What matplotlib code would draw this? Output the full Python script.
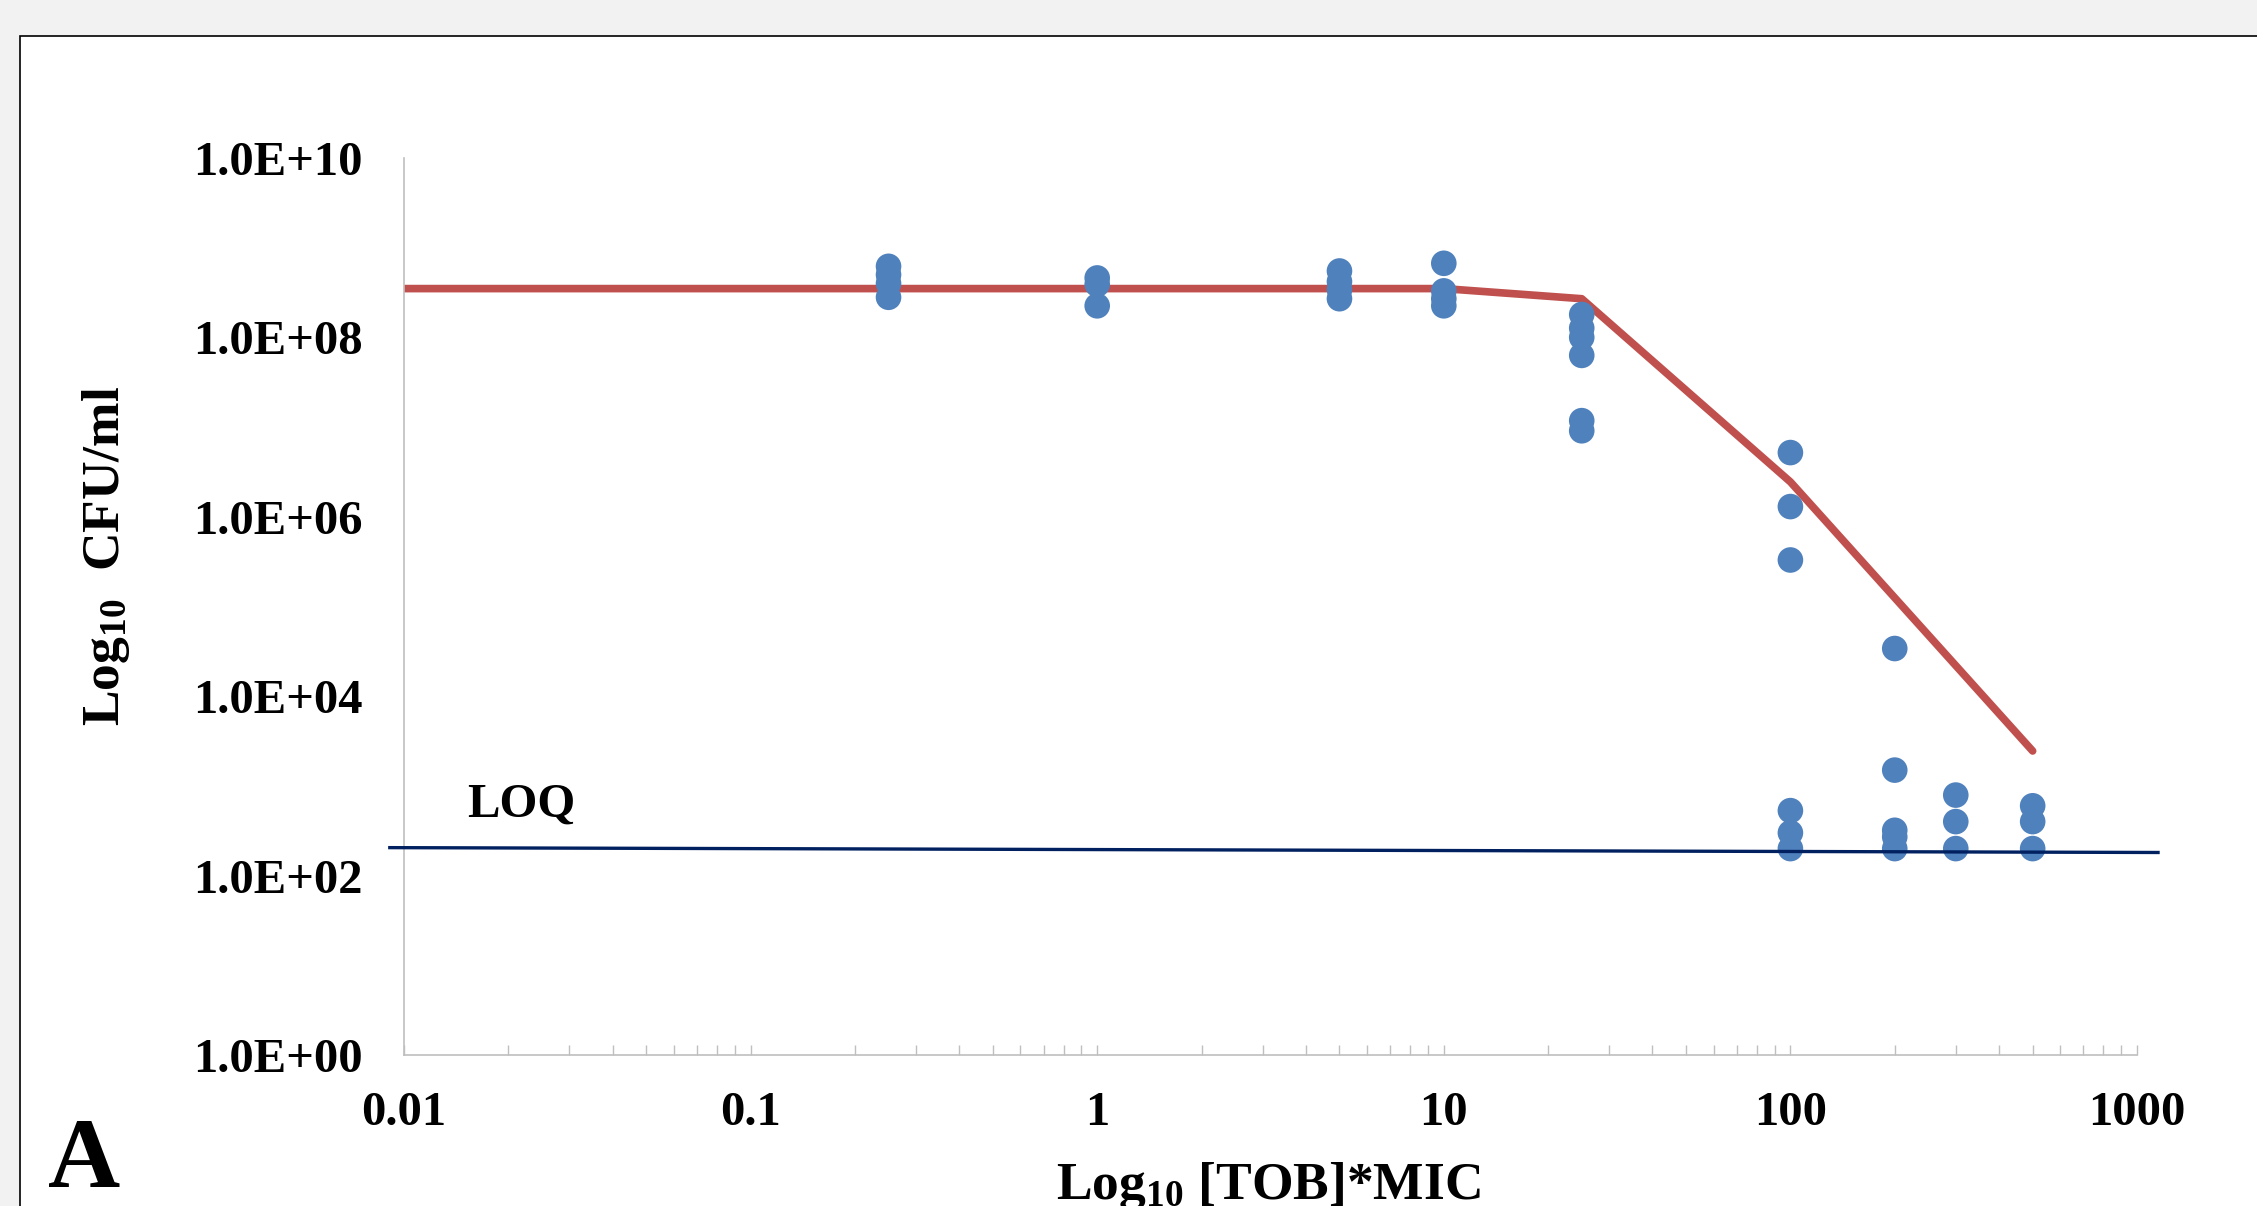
import numpy as np
import matplotlib
matplotlib.use("Agg")
import matplotlib.pyplot as plt
import matplotlib.patches as patches
from matplotlib.ticker import LogLocator, FixedLocator, FuncFormatter, NullFormatter

# data
conc = [0.25, 0.25, 0.25, 0.25,
        1, 1, 1,
        5, 5, 5, 5,
        10, 10, 10, 10,
        25, 25, 25, 25, 25, 25,
        100, 100, 100, 100, 100, 100,
        200, 200, 200, 200, 200,
        300, 300, 300,
        500, 500, 500]
cfu = [6.2e8, 5.0e8, 4.0e8, 2.8e8,
       4.6e8, 3.9e8, 2.25e8,
       5.5e8, 4.2e8, 3.4e8, 2.7e8,
       6.7e8, 3.3e8, 2.7e8, 2.25e8,
       1.8e8, 1.27e8, 1.0e8, 6.3e7, 1.18e7, 9.1e6,
       5.2e6, 1.3e6, 3.3e5, 530, 300, 200,
       3.4e4, 1.5e3, 320, 270, 200,
       790, 400, 200,
       600, 400, 200]

model_conc = [0.01, 10, 25, 100, 500]
model_cfu = [3.5e8, 3.5e8, 2.7e8, 2.45e6, 2.45e3]

loq_conc = [0.0091, 1150]
loq_cfu = [205, 181]

xtick_vals = [0.01, 0.1, 1, 10, 100, 1000]
xtick_labels = ['0.01', '0.1', '1', '10', '100', '1000']
ytick_vals = [1e0, 1e2, 1e4, 1e6, 1e8, 1e10]

plt.rcParams['font.family'] = ['Liberation Serif', 'DejaVu Serif']
plt.rcParams['font.weight'] = 'bold'
plt.rcParams['mathtext.fontset'] = 'custom'
plt.rcParams['mathtext.rm'] = 'Liberation Serif:bold'
plt.rcParams['mathtext.bf'] = 'Liberation Serif:bold'
plt.rcParams['mathtext.it'] = 'Liberation Serif:bold'

W, H = 2257, 1206
fig = plt.figure(figsize=(W / 100, H / 100), dpi=100, facecolor='#f2f2f2')

# white chart panel with thin black frame
panel = patches.Rectangle((20 / W, -0.1), 1.2, 1 - 36 / H + 0.1, transform=fig.transFigure,
                          facecolor='white', edgecolor='black', linewidth=1.2, zorder=-10)
fig.patches.append(panel)

ax = fig.add_axes([404 / W, 1 - 1055 / H, (2137 - 404) / W, (1055 - 158) / H])
ax.set_facecolor('none')
ax.set_xscale('log')
ax.set_yscale('log')
ax.set_xlim(0.01, 1000)
ax.set_ylim(1, 1e10)

ax.plot(model_conc, model_cfu, color='#c0504d', lw=5.5, solid_capstyle='round', zorder=2)
ax.scatter(conc, cfu, s=340, color='#4f81bd', edgecolors='none', zorder=3)
ax.plot(loq_conc, loq_cfu, color='#002060', lw=2.4, clip_on=False, zorder=4)

ax.text(0.0152, 454, 'LOQ', fontsize=35, fontweight='bold', va='baseline', ha='left')

for s in ['top', 'right']:
    ax.spines[s].set_visible(False)
for s in ['left', 'bottom']:
    ax.spines[s].set_color('#bfbfbf')
    ax.spines[s].set_linewidth(1.2)

ax.xaxis.set_major_locator(FixedLocator(xtick_vals))
ax.set_xticklabels(xtick_labels)
ax.xaxis.set_minor_locator(LogLocator(base=10, subs=np.arange(2, 10)))
ax.xaxis.set_minor_formatter(NullFormatter())
ax.tick_params(axis='x', which='both', direction='in', length=7.5, width=1,
               color='#bfbfbf', labelsize=35, pad=26)

ax.yaxis.set_major_locator(FixedLocator(ytick_vals))
ax.yaxis.set_major_formatter(FuncFormatter(lambda v, p: f'{v:.1E}'))
ax.yaxis.set_minor_locator(FixedLocator([]))
ax.tick_params(axis='y', which='both', length=0, labelsize=35, pad=30)

for lab in ax.get_xticklabels() + ax.get_yticklabels():
    lab.set_fontweight('bold')

fig.text(106 / W, 1 - 556 / H, r'Log$_{\mathbf{10}}$  CFU/ml', rotation=90,
         ha='center', va='center', fontsize=38.5, fontweight='bold')
fig.text(1268 / W, 1 - 1199 / H, r'Log$_{\mathbf{10}}$ [TOB]*MIC',
         ha='center', va='baseline', fontsize=38.5, fontweight='bold')
fig.text(48 / W, 1 - 1187 / H, 'A', ha='left', va='baseline', fontsize=72, fontweight='bold')

fig.savefig('out.png', dpi=100, facecolor=fig.get_facecolor())
